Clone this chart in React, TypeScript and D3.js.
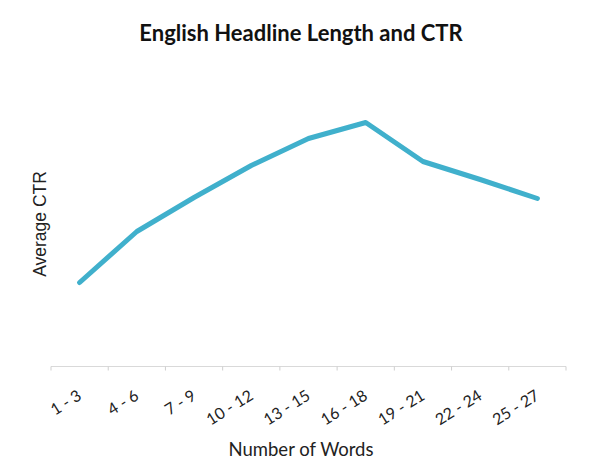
import React from "react";
import * as d3 from "d3";

const categories = ["1 - 3", "4 - 6", "7 - 9", "10 - 12", "13 - 15", "16 - 18", "19 - 21", "22 - 24", "25 - 27"];
const ctrValues = [0.84, 1.35, 1.69, 2.01, 2.28, 2.44, 2.05, 1.87, 1.68];
const yDomain = [0, 3];

const W = 600;
const H = 464;
const left = 51;
const right = 566;
const bottom = 366.5;
const top = 66.5;

export default function App() {
  const x = d3.scaleBand<string>().domain(categories).range([left, right]);
  const y = d3.scaleLinear().domain(yDomain).range([bottom, top]);
  const line = d3
    .line<number>()
    .x((_, i) => (x(categories[i]) as number) + x.bandwidth() / 2)
    .y((d) => y(d));
  const boundaries = [left, ...categories.map((c) => (x(c) as number) + x.bandwidth())];

  return (
    <svg width={W} height={H} style={{ position: "absolute", left: 0, top: 0, background: "#fff" }}>
      <text x={301} y={41} textAnchor="middle" fontFamily="Lato, 'Open Sans', sans-serif" fontWeight={700} fontSize={22} fill="#111">
        English Headline Length and CTR
      </text>
      <text
        transform={`translate(46, ${224}) rotate(-90)`}
        textAnchor="middle"
        fontFamily="'Liberation Sans', Arial, sans-serif"
        fontSize={17.5}
        fill="#222"
      >
        Average CTR
      </text>
      <line x1={left} x2={right} y1={bottom} y2={bottom} stroke="#d9d9d9" strokeWidth={1} />
      {boundaries.map((b, i) => (
        <line key={i} x1={b} x2={b} y1={bottom} y2={bottom + 4} stroke="#cfcfcf" strokeWidth={1} />
      ))}
      {categories.map((c) => {
        const cx = (x(c) as number) + x.bandwidth() / 2;
        return (
          <text
            key={c}
            transform={`translate(${cx + 3}, ${bottom + 32}) rotate(-32)`}
            textAnchor="end"
            fontFamily="Lato, 'Open Sans', sans-serif"
            fontSize={16}
            fill="#222"
          >
            {c}
          </text>
        );
      })}
      <path d={line(ctrValues) || ""} fill="none" stroke="#40b0cc" strokeWidth={5} strokeLinejoin="round" strokeLinecap="round" />
      <text x={301} y={456} textAnchor="middle" fontFamily="Lato, 'Open Sans', sans-serif" fontSize={18.5} fill="#222">
        Number of Words
      </text>
    </svg>
  );
}
